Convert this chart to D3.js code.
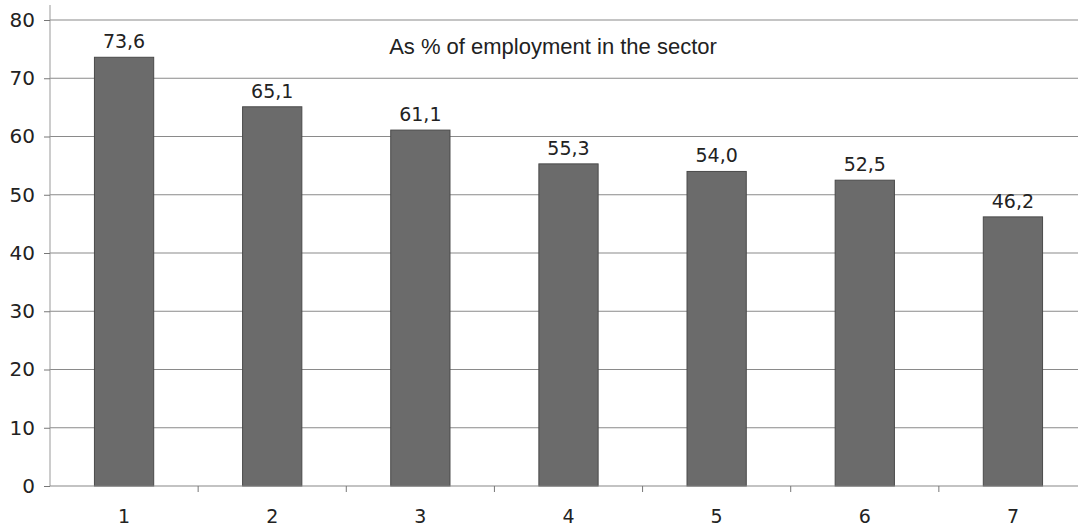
<!DOCTYPE html>
<html>
<head>
<meta charset="UTF-8">
<style>
  body { margin: 0; background: #fff; }
  svg { display: block; }
  .tick text { font-family: "DejaVu Sans", sans-serif; fill: #222; }
</style>
</head>
<body>
<svg></svg>
<script src="https://d3js.org/d3.v7.min.js"></script>
<script>
let width = 1078, height = 530;

// data
let categories = ["1", "2", "3", "4", "5", "6", "7"];
let values = [73.6, 65.1, 61.1, 55.3, 54.0, 52.5, 46.2];
let yTicks = [0, 10, 20, 30, 40, 50, 60, 70, 80];
let note = "As % of employment in the sector";

let margin = {left: 50, top: 20, bottom: 44};
let plotRight = 1087; // plot area runs a bit past the picture edge

let svg = d3.select("svg").attr("width", width).attr("height", height);

let x = d3.scaleBand().domain(categories).range([margin.left, plotRight]).paddingInner(0.6).paddingOuter(0.3);
let y = d3.scaleLinear().domain([0, 80]).range([height - margin.bottom, margin.top]);

// gridlines
svg.append("g").selectAll("line").data(yTicks.slice(1)).enter().append("line")
  .attr("x1", margin.left).attr("x2", width)
  .attr("y1", d => y(d)).attr("y2", d => y(d))
  .attr("stroke", "#8a8a8a").attr("stroke-width", 1.2);

// bars
svg.append("g").selectAll("rect").data(values).enter().append("rect")
  .attr("x", (d, i) => x(categories[i]))
  .attr("y", d => y(d))
  .attr("width", x.bandwidth())
  .attr("height", d => y(0) - y(d))
  .attr("fill", "#6b6b6b")
  .attr("stroke", "#4a4a4a").attr("stroke-width", 1);

// value labels
svg.append("g").selectAll("text").data(values).enter().append("text")
  .attr("x", (d, i) => x(categories[i]) + x.bandwidth() / 2)
  .attr("y", d => y(d) - 9)
  .attr("text-anchor", "middle")
  .style("font-family", "DejaVu Sans, sans-serif")
  .style("font-size", "19px")
  .style("fill", "#222")
  .text(d => d.toFixed(1).replace(".", ","));

// y axis
let yAxis = svg.append("g").attr("transform", `translate(${margin.left},0)`)
  .call(d3.axisLeft(y).tickValues(yTicks).tickSize(6).tickPadding(9));
yAxis.select(".domain").attr("d", `M0,5V${y(0)}`).attr("stroke", "#999");
yAxis.selectAll(".tick line").attr("stroke", "#777");
yAxis.selectAll(".tick text").style("font-size", "20px");

// x axis with ticks at band boundaries
let xAxis = svg.append("g").attr("transform", `translate(0,${y(0)})`);
xAxis.append("line").attr("x1", margin.left).attr("x2", width).attr("stroke", "#888").attr("stroke-width", 1.2);
let step = x.step();
let bounds = d3.range(1, categories.length).map(i => margin.left + i * step);
xAxis.selectAll(".bt").data(bounds).enter().append("line")
  .attr("x1", d => d).attr("x2", d => d).attr("y1", 0).attr("y2", 6)
  .attr("stroke", "#777");
xAxis.selectAll(".lab").data(categories).enter().append("text")
  .attr("x", d => x(d) + x.bandwidth() / 2)
  .attr("y", 37)
  .attr("text-anchor", "middle")
  .style("font-family", "DejaVu Sans, sans-serif")
  .style("font-size", "19px")
  .style("fill", "#222")
  .text(d => d);

// note
svg.append("text")
  .attr("x", 553).attr("y", 54)
  .attr("text-anchor", "middle")
  .style("font-family", "Liberation Sans, Arial, sans-serif")
  .style("font-size", "22px")
  .style("fill", "#222")
  .text(note);
</script>
</body>
</html>
